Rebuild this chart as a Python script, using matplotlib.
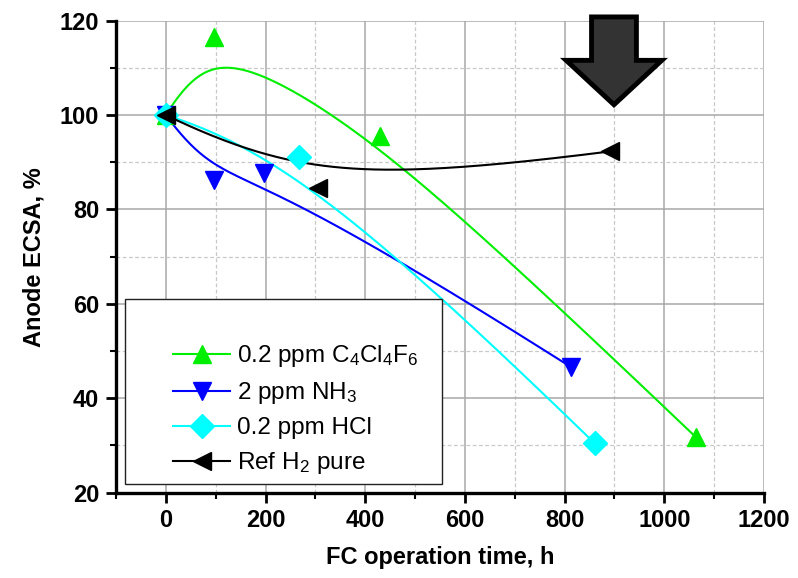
import numpy as np
import matplotlib
matplotlib.use("Agg")
import matplotlib.pyplot as plt
from matplotlib.patches import Polygon, Rectangle
from matplotlib.ticker import MultipleLocator
from math import comb

plt.rcParams['font.family'] = ['Liberation Sans', 'DejaVu Sans']
plt.rcParams['mathtext.fontset'] = 'custom'
plt.rcParams['mathtext.rm'] = 'Liberation Sans'
plt.rcParams['mathtext.it'] = 'Liberation Sans'

# ---- data ----
labels = ["0.2 ppm C$_4$Cl$_4$F$_6$", "2 ppm NH$_3$", "0.2 ppm HCl", "Ref H$_2$ pure"]
x_c4 = [0, 97, 430, 1064]
y_c4 = [100, 116.5, 95.5, 31.7]
x_nh3 = [0, 97, 197, 813]
y_nh3 = [100, 86.2, 87.7, 46.6]
x_hcl = [0, 268, 860]
y_hcl = [100, 91.1, 30.5]
x_ref = [0, 306, 891]
y_ref = [100, 84.5, 92.3]

colors = ["#00ee00", "#0000ff", "#00ffff", "#000000"]
markers = ["^", "v", "D", "<"]
msizes = [13, 13, 12, 13]
weights = [5.0, 2.0, 1.5, 1.7]


def rational_bezier(xs, ys, w, n=200):
    P = np.column_stack([xs, ys]).astype(float)
    k = len(P) - 1
    W = np.ones(k + 1)
    W[1:-1] = w
    t = np.linspace(0, 1, n)
    B = np.array([comb(k, i) * t**i * (1 - t)**(k - i) for i in range(k + 1)])
    BW = B * W[:, None]
    den = BW.sum(axis=0)
    return (BW.T @ P[:, 0]) / den, (BW.T @ P[:, 1]) / den


fig = plt.figure(figsize=(7.98, 5.78), dpi=100)
ax = fig.add_axes([0.1454, 0.1476, 0.812, 0.8166])

series = [(x_c4, y_c4), (x_nh3, y_nh3), (x_hcl, y_hcl), (x_ref, y_ref)]
handles = []
for (xs, ys), c, m, ms, w, lab in zip(series, colors, markers, msizes, weights, labels):
    cx, cy = rational_bezier(xs, ys, w)
    ax.plot(cx, cy, color=c, lw=1.5, zorder=3)
    ax.plot(xs, ys, linestyle='none', marker=m, ms=ms, color=c, mec=c, zorder=4)
    h, = ax.plot([], [], color=c, lw=1.5, marker=m, ms=ms, mec=c, label=lab)
    handles.append(h)

ax.set_xlim(-100, 1200)
ax.set_ylim(20, 120)
ax.xaxis.set_major_locator(MultipleLocator(200))
ax.xaxis.set_minor_locator(MultipleLocator(100))
ax.yaxis.set_major_locator(MultipleLocator(20))
ax.yaxis.set_minor_locator(MultipleLocator(10))

ax.grid(which='major', color='#a8a8a8', lw=1.1, ls='-', zorder=0)
ax.grid(which='minor', color='#c8c8c8', lw=0.9, ls=(0, (3, 2)), zorder=0)
ax.set_axisbelow(True)

for s in ['top', 'right']:
    ax.spines[s].set_visible(False)
for s in ['left', 'bottom']:
    ax.spines[s].set_linewidth(2.4)

ax.tick_params(which='major', direction='out', length=7, width=2, labelsize=17, pad=5)
ax.tick_params(which='minor', direction='out', length=4, width=1.5)
for lbl in ax.get_xticklabels() + ax.get_yticklabels():
    lbl.set_fontweight('bold')

ax.set_xlabel("FC operation time, h", fontsize=17, fontweight='bold', labelpad=10)
ax.set_ylabel("Anode ECSA, %", fontsize=17, fontweight='bold', labelpad=10)

# legend frame and entries
frame = Rectangle((0.0139, 0.018), 0.4887, 0.392, transform=ax.transAxes,
                  facecolor='white', edgecolor='#222222', lw=1.0, zorder=5)
ax.add_patch(frame)
leg = ax.legend(handles=handles, loc='lower left', bbox_to_anchor=(0.088, 0.035),
                frameon=False, fontsize=17.5, handlelength=2.35, handletextpad=0.3,
                labelspacing=0.45, borderaxespad=0, borderpad=0)
leg.set_zorder(6)

# arrow annotation
cx0 = 899
arrow = Polygon([(cx0 - 45, 120.8), (cx0 + 45, 120.8), (cx0 + 45, 111.6),
                 (cx0 + 96, 111.6), (cx0, 102.2), (cx0 - 96, 111.6), (cx0 - 45, 111.6)],
                closed=True, facecolor='#333333', edgecolor='black', lw=3.5,
                joinstyle='miter', clip_on=False, zorder=7)
ax.add_patch(arrow)

fig.savefig("out.png", dpi=100)
